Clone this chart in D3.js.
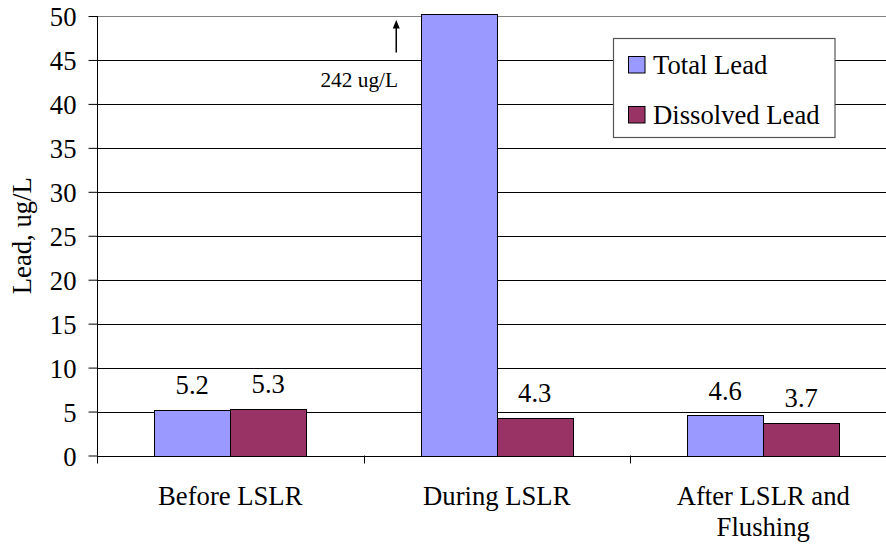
<!DOCTYPE html>
<html>
<head>
<meta charset="utf-8">
<script src="https://cdn.jsdelivr.net/npm/d3@7"></script>
<style>
  html, body { margin: 0; padding: 0; background: #fff; }
  svg { display: block; font-family: "Liberation Serif", "Times New Roman", serif; }
  svg text { font-family: "Liberation Serif", "Times New Roman", serif !important; fill: #000; }
</style>
</head>
<body>
<svg id="chart" width="886" height="548"></svg>
<script>
// ---- data ----
const categories = ["Before LSLR", "During LSLR", "After LSLR and\nFlushing"];
const seriesNames = ["Total Lead", "Dissolved Lead"];
const totalLead = [5.2, 242, 4.6];
const dissolvedLead = [5.3, 4.3, 3.7];
const yTicks = [0, 5, 10, 15, 20, 25, 30, 35, 40, 45, 50];
const yTitle = "Lead, ug/L";
const offScaleNote = "242 ug/L";
const colors = ["#9999FF", "#993366"];

(function () {
// ---- layout ----
const svg = d3.select("#chart");
const pLeft = 97, pRight = 896.5, pTop = 16, pBottom = 455.5;
const fs = 26.67;

const x0 = d3.scaleBand().domain(categories).range([pLeft, pRight]).paddingInner(0).paddingOuter(0);
const groupW = x0.bandwidth() * 0.57;
const x1 = d3.scaleBand().domain(seriesNames).range([0, groupW]).padding(0);
const y = d3.scaleLinear().domain([0, 50]).range([pBottom, pTop]);

// gridlines
svg.append("g").selectAll("line")
  .data(yTicks.filter(t => t > 0))
  .join("line")
  .attr("x1", pLeft).attr("x2", pRight)
  .attr("y1", d => Math.round(y(d)) + 0.5).attr("y2", d => Math.round(y(d)) + 0.5)
  .attr("stroke", d => d === 50 ? "#808080" : "#000")
  .attr("stroke-width", 1);

// bars
const rows = categories.map((c, i) => ({ c, vals: [totalLead[i], dissolvedLead[i]] }));
const maxVis = 50.25;
const g = svg.append("g");
rows.forEach(r => {
  const gx = x0(r.c) + x0.bandwidth() / 2 - groupW / 2;
  r.vals.forEach((v, j) => {
    const bx = gx + x1(seriesNames[j]);
    const vv = Math.min(v, maxVis);
    g.append("rect")
      .attr("x", Math.round(bx) + 0.5)
      .attr("y", Math.round(y(vv)) + 0.5)
      .attr("width", Math.round(x1.bandwidth()))
      .attr("height", Math.round(y(0)) - Math.round(y(vv)))
      .attr("fill", colors[j])
      .attr("stroke", "#000")
      .attr("stroke-width", 1);
    if (v <= 50) {
      g.append("text")
        .attr("x", bx + x1.bandwidth() / 2)
        .attr("y", y(v) - 15.5)
        .attr("text-anchor", "middle")
        .attr("font-size", fs)
        .text(v.toFixed(1));
    }
  });
});

// y axis
const yAxis = d3.axisLeft(y).tickValues(yTicks).tickSize(9).tickPadding(12).tickFormat(d3.format("d"));
const ya = svg.append("g").attr("transform", `translate(${pLeft + 0.5},0)`).call(yAxis);
ya.attr("font-family", null).attr("font-size", null);
ya.select(".domain").remove();
ya.selectAll(".tick line").attr("stroke", "#000");
ya.selectAll(".tick text").attr("font-size", fs).attr("dy", "0.36em").attr("fill", "#000");
svg.append("line").attr("x1", pLeft + 0.5).attr("x2", pLeft + 0.5).attr("y1", pTop).attr("y2", pBottom).attr("stroke", "#000");

// x axis
svg.append("line").attr("x1", pLeft).attr("x2", pRight).attr("y1", Math.round(y(0)) + 0.5).attr("y2", Math.round(y(0)) + 0.5).attr("stroke", "#000");
const bounds = categories.map(c => x0(c));
svg.append("g").selectAll("line").data(bounds).join("line")
  .attr("x1", d => Math.round(d) + 0.5).attr("x2", d => Math.round(d) + 0.5)
  .attr("y1", y(0)).attr("y2", y(0) + 8).attr("stroke", "#000");
categories.forEach(c => {
  const cx = x0(c) + x0.bandwidth() / 2;
  const t = svg.append("text")
    .attr("x", cx)
    .attr("y", 504.5)
    .attr("text-anchor", "middle")
    .attr("font-size", fs);
  c.split("\n").forEach((line, i) => {
    t.append("tspan").attr("x", cx).attr("dy", i === 0 ? 0 : 31.5).text(line);
  });
});

// y title
svg.append("text")
  .attr("transform", `translate(31,${(pTop + pBottom) / 2}) rotate(-90)`)
  .attr("text-anchor", "middle")
  .attr("font-size", fs)
  .text(yTitle);

// off-scale annotation
const ax = x0(categories[1]) + x0.bandwidth() / 2 - 100.5;
svg.append("line").attr("x1", ax).attr("x2", ax).attr("y1", y(50) + 36.5).attr("y2", y(50) + 10).attr("stroke", "#000").attr("stroke-width", 1.5);
svg.append("path")
  .attr("d", `M${ax},${y(50) + 4} L${ax - 3.5},${y(50) + 12.5} L${ax + 3.5},${y(50) + 12.5} Z`)
  .attr("fill", "#000");
svg.append("text")
  .attr("x", ax - 37)
  .attr("y", y(45) + 27)
  .attr("text-anchor", "middle")
  .attr("font-size", 21.33)
  .text(offScaleNote);

// legend
const lg = svg.append("g");
lg.append("rect").attr("x", 613.5).attr("y", 38.5).attr("width", 221.5).attr("height", 99)
  .attr("fill", "#fff").attr("stroke", "#555").attr("stroke-width", 1.2);
seriesNames.forEach((s, i) => {
  lg.append("rect").attr("x", 628.5).attr("y", 56.5 + i * 50).attr("width", 16.5).attr("height", 16.5)
    .attr("fill", colors[i]).attr("stroke", "#000").attr("stroke-width", 1);
  lg.append("text").attr("x", 653).attr("y", 73.5 + i * 50).attr("font-size", fs).text(s);
});
})();
</script>
</body>
</html>
